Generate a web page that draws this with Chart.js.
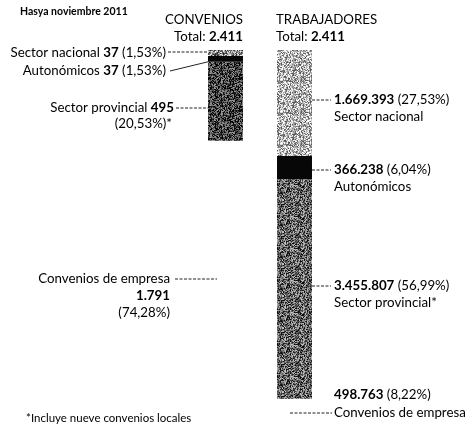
<!DOCTYPE html>
<html><head><meta charset="utf-8">
<script src="https://cdn.jsdelivr.net/npm/chart.js@4"></script>
<style>html,body{margin:0;padding:0;background:#fff;}canvas{display:block;}</style>
</head><body>
<canvas id="c" width="473" height="427"></canvas>
<script>
// ---- data ----
const categories = ['CONVENIOS', 'TRABAJADORES'];
const segments = ['Sector nacional', 'Autonómicos', 'Sector provincial', 'Convenios de empresa'];
const conveniosCount = ['37', '37', '495', '1.791'];
const conveniosPct = [1.53, 1.53, 20.53, 74.28];
const trabajadoresCount = ['1.669.393', '366.238', '3.455.807', '498.763'];
const trabajadoresPct = [27.53, 6.04, 56.99, 8.22];
const totals = ['2.411', '2.411'];
const subtitle = 'Hasya noviembre 2011';
const footnote = '*Incluye nueve convenios locales';

const FONT = 'Lato';

function hash(x, y, s) {
  let h = Math.imul(x, 374761393) + Math.imul(y, 668265263) + Math.imul(s, 1442695041);
  h = Math.imul(h ^ (h >>> 13), 1274126177);
  h = h ^ (h >>> 16);
  return (h >>> 0) / 4294967296;
}
function texture(base, contrast, seed) {
  const c = document.createElement('canvas');
  c.width = 32; c.height = 32;
  const g = c.getContext('2d');
  const img = g.createImageData(32, 32);
  for (let y = 0; y < 32; y++) for (let x = 0; x < 32; x++) {
    const v = Math.max(0, Math.min(255, Math.round(base + (hash(x, y, seed) - 0.5) * contrast)));
    const i = (y * 32 + x) * 4;
    img.data[i] = img.data[i + 1] = img.data[i + 2] = v; img.data[i + 3] = 255;
  }
  g.putImageData(img, 0, 0);
  return g.createPattern(c, 'repeat');
}
const fills = [
  [texture(140, 230, 1), texture(175, 200, 2)],
  ['#050505', '#070707'],
  [texture(65, 190, 3), texture(100, 200, 4)],
  ['#ffffff', '#ffffff']
];

const datasets = segments.map((s, i) => ({
  label: s,
  data: [conveniosPct[i], trabajadoresPct[i]],
  backgroundColor: fills[i],
  borderWidth: 0,
  barPercentage: 0.507,
  categoryPercentage: 1
}));

function rich(ctx, parts, x, y, align, size) {
  let w = 0;
  parts.forEach(p => { ctx.font = (p[1] ? 'bold ' : '') + size + 'px ' + FONT; w += ctx.measureText(p[0]).width; });
  let cx = align === 'right' ? x - w : x;
  ctx.textBaseline = 'middle'; ctx.textAlign = 'left'; ctx.fillStyle = '#000';
  parts.forEach(p => { ctx.font = (p[1] ? 'bold ' : '') + size + 'px ' + FONT; ctx.fillText(p[0], cx, y); cx += ctx.measureText(p[0]).width; });
  return w;
}
function line(ctx, x1, y1, x2, y2, dashed) {
  ctx.save(); ctx.strokeStyle = '#222'; ctx.lineWidth = 1;
  if (dashed) ctx.setLineDash([3, 1.5]);
  ctx.beginPath(); ctx.moveTo(x1, y1); ctx.lineTo(x2, y2); ctx.stroke(); ctx.restore();
}
const fmt = v => v.toFixed(2).replace('.', ',');

const annot = {
  id: 'annot',
  afterDraw(chart) {
    const ctx = chart.ctx;
    const L = chart.getDatasetMeta(0).data[0];
    const R = chart.getDatasetMeta(0).data[1];
    const lx = L.x - L.width / 2, rx = R.x + R.width / 2;
    const S = 13.3;
    // header
    rich(ctx, [[subtitle, true]], 20, 12, 'left', 10.5);
    rich(ctx, [[categories[0], false]], L.x + L.width / 2, 20, 'right', S);
    rich(ctx, [['Total: ', false], [totals[0], true]], L.x + L.width / 2, 37, 'right', S);
    rich(ctx, [[categories[1], false]], R.x - R.width / 2 - 1, 20, 'left', S);
    rich(ctx, [['Total: ', false], [totals[1], true]], R.x - R.width / 2 - 1, 37, 'left', S);
    // left labels
    const m = i => chart.getDatasetMeta(i).data[0];
    rich(ctx, [[segments[0] + ' ', false], [conveniosCount[0], true], [' (' + fmt(conveniosPct[0]) + '%)', false]], 166, 53, 'right', S);
    line(ctx, 168, 52, lx, 52, true);
    rich(ctx, [[segments[1] + ' ', false], [conveniosCount[1], true], [' (' + fmt(conveniosPct[1]) + '%)', false]], 166, 71, 'right', S);
    line(ctx, 170, 71, lx, m(1).y, false);
    rich(ctx, [[segments[2] + ' ', false], [conveniosCount[2], true]], 174, 108, 'right', S);
    line(ctx, 176, 108, lx, 108, true);
    rich(ctx, [['(' + fmt(conveniosPct[2]) + '%)*', false]], 172, 124, 'right', S);
    rich(ctx, [[segments[3], false]], 170, 279, 'right', S);
    line(ctx, 175, 279, 217, 279, true);
    rich(ctx, [[conveniosCount[3], true]], 170, 296, 'right', S);
    rich(ctx, [['(' + fmt(conveniosPct[3]) + '%)', false]], 170, 313, 'right', S);
    // right labels
    const ys = [100, 170, 286];
    const names = [segments[0], segments[1], segments[2] + '*'];
    for (let i = 0; i < 3; i++) {
      line(ctx, rx, ys[i], 331, ys[i], true);
      rich(ctx, [[trabajadoresCount[i], true], [' (' + fmt(trabajadoresPct[i]) + '%)', false]], 334, ys[i], 'left', S);
      rich(ctx, [[names[i], false]], 334, ys[i] + 17, 'left', S);
    }
    rich(ctx, [[trabajadoresCount[3], true], [' (' + fmt(trabajadoresPct[3]) + '%)', false]], 334, 395, 'left', S);
    line(ctx, 290, 413, 332, 413, true);
    rich(ctx, [[segments[3], false]], 334, 413, 'left', S);
    // footnote
    rich(ctx, [[footnote, false]], 26, 418, 'left', 11.5);
  }
};

new Chart(document.getElementById('c'), {
  type: 'bar',
  data: { labels: categories, datasets },
  options: {
    responsive: false,
    animation: false,
    layout: { padding: { left: 191, right: 144, top: 50, bottom: 0 } },
    plugins: { legend: { display: false }, tooltip: { enabled: false } },
    scales: {
      x: { display: false, stacked: true },
      y: { display: false, stacked: true, reverse: true, min: 0, max: 97.9 }
    }
  },
  plugins: [annot]
});
</script>
</body></html>
